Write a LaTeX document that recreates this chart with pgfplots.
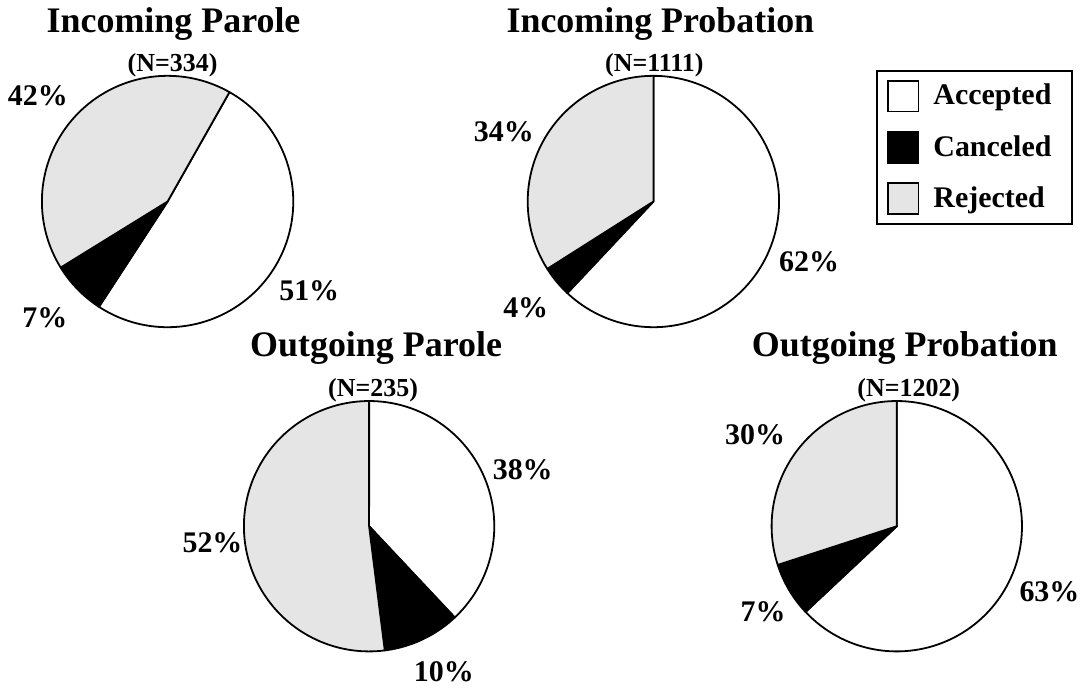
\documentclass[border=0pt]{standalone}
\usepackage{pgfplots}
\pgfplotsset{compat=1.18}
\usepackage{pgfplotstable}
\usepackage{fontspec}
\setmainfont{Liberation Serif}

% one row per pie: centre (px), radius, start angle, percentages
\pgfplotstableread{
cx cy rad start acc can rej
168 202 126 60.5 51 7 42
655 202 126 90 62 4 34
370 527.5 125.5 90 38 10 52
899 527.5 125.5 90 63 7 30
}\piedata

\newcommand\slice[6]{%
 \edef\tmp{\noexpand\addplot[forget plot,draw=black,line width=0.9pt,line join=round,fill=#6,domain=#4:#5,samples=100,variable=\noexpand\t] ({#1+#3*cos(\noexpand\t)},{#2-#3*sin(\noexpand\t)}) -- (axis cs:#1,#2) -- cycle;}%
 \tmp}

\newcommand\titlefont{\fontsize{18}{21}\selectfont\bfseries}
\newcommand\nfont{\fontsize{13}{15}\selectfont\bfseries}
\newcommand\pfont{\fontsize{15}{18}\selectfont\bfseries}

\begin{document}
\begin{tikzpicture}
\begin{axis}[
  width=543pt,height=346.5pt,scale only axis,
  xmin=0,xmax=1086,ymin=0,ymax=693,y dir=reverse,
  axis lines=none,clip=false,
  legend image code/.code={\draw[#1,draw=black,line width=0.9pt] (0pt,-7.75pt) rectangle (15.5pt,7.75pt);},
  legend cell align=left,
  legend style={at={(axis cs:878,70)},anchor=north west,draw=black,line width=0.9pt,
    inner xsep=5pt,inner ysep=4.5pt,row sep=9.25pt,
    font=\pfont,
    nodes={inner sep=0pt,text width=64.5pt},
    /tikz/every odd column/.append style={column sep=7pt}},
]
\path (axis cs:0,0) rectangle (axis cs:1086,693);
\pgfplotsforeachungrouped \i in {0,1,2,3}{%
 \pgfplotstablegetelem{\i}{cx}\of\piedata\let\cx\pgfplotsretval
 \pgfplotstablegetelem{\i}{cy}\of\piedata\let\cy\pgfplotsretval
 \pgfplotstablegetelem{\i}{rad}\of\piedata\let\rad\pgfplotsretval
 \pgfplotstablegetelem{\i}{start}\of\piedata\let\st\pgfplotsretval
 \pgfplotstablegetelem{\i}{acc}\of\piedata\let\acc\pgfplotsretval
 \pgfplotstablegetelem{\i}{can}\of\piedata\let\can\pgfplotsretval
 \pgfplotstablegetelem{\i}{rej}\of\piedata\let\rej\pgfplotsretval
 \pgfmathsetmacro\aA{\st}%
 \pgfmathsetmacro\aB{\st-3.6*\acc}%
 \pgfmathsetmacro\aC{\aB-3.6*\can}%
 \pgfmathsetmacro\aD{\aC-3.6*\rej}%
 \slice{\cx}{\cy}{\rad}{\aB}{\aA}{white}%
 \slice{\cx}{\cy}{\rad}{\aC}{\aB}{black}%
 \slice{\cx}{\cy}{\rad}{\aD}{\aC}{gray!20}%
}
\addlegendimage{fill=white}\addlegendentry{Accepted}
\addlegendimage{fill=black}\addlegendentry{Canceled}
\addlegendimage{fill=gray!20}\addlegendentry{Rejected}

\node[font=\titlefont,anchor=base] at (axis cs:174,33) {Incoming Parole};
\node[font=\titlefont,anchor=base] at (axis cs:662,33) {Incoming Probation};
\node[font=\titlefont,anchor=base] at (axis cs:377,357) {Outgoing Parole};
\node[font=\titlefont,anchor=base] at (axis cs:907,357) {Outgoing Probation};

\node[font=\nfont,anchor=base] at (axis cs:173,72) {(N=334)};
\node[font=\nfont,anchor=base] at (axis cs:656,72) {(N=1111)};
\node[font=\nfont,anchor=base] at (axis cs:374,397) {(N=235)};
\node[font=\nfont,anchor=base] at (axis cs:911,397) {(N=1202)};

\node[font=\pfont] at (axis cs:38,96) {42\%};
\node[font=\pfont] at (axis cs:310,291) {51\%};
\node[font=\pfont] at (axis cs:45,319) {7\%};
\node[font=\pfont] at (axis cs:505,132) {34\%};
\node[font=\pfont] at (axis cs:811,262) {62\%};
\node[font=\pfont] at (axis cs:527,308) {4\%};
\node[font=\pfont] at (axis cs:524,471) {38\%};
\node[font=\pfont] at (axis cs:213,544) {52\%};
\node[font=\pfont] at (axis cs:445,673) {10\%};
\node[font=\pfont] at (axis cs:757,436) {30\%};
\node[font=\pfont] at (axis cs:1052,593) {63\%};
\node[font=\pfont] at (axis cs:765,613) {7\%};
\end{axis}
\end{tikzpicture}
\end{document}
